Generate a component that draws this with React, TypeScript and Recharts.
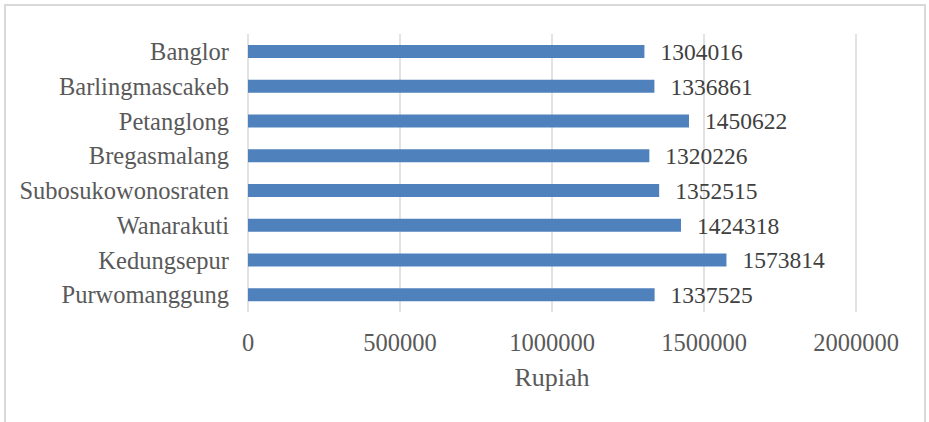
import React from 'react';
import { BarChart, Bar, XAxis, YAxis, CartesianGrid, LabelList } from 'recharts';

const categories = ['Banglor', 'Barlingmascakeb', 'Petanglong', 'Bregasmalang', 'Subosukowonosraten', 'Wanarakuti', 'Kedungsepur', 'Purwomanggung'];
const values = [1304016, 1336861, 1450622, 1320226, 1352515, 1424318, 1573814, 1337525];
const xTicks = [0, 500000, 1000000, 1500000, 2000000];

const data = categories.map((name, i) => ({ name, value: values[i] }));

const FONT = 'Liberation Serif, Times New Roman, serif';

export default function App() {
  return (
    <div style={{ position: 'absolute', left: 0, top: 0, width: 929, height: 422, overflow: 'hidden', background: '#fff', fontFamily: FONT }}>
      <div style={{ position: 'absolute', left: 4, top: 4, width: 918, height: 440, border: '2px solid #d9d9d9' }} />
      <div style={{ position: 'absolute', left: 0, top: 0 }}>
        <BarChart
          width={929}
          height={422}
          data={data}
          layout="vertical"
          margin={{ top: 34, right: 73, bottom: 30, left: 0 }}
          barCategoryGap="31%"
          style={{ fontFamily: FONT }}
        >
          <CartesianGrid horizontal={false} vertical={true} stroke="#d9d9d9" strokeWidth={1.5} />
          <XAxis
            type="number"
            domain={[0, 2000000]}
            ticks={xTicks}
            axisLine={false}
            tickLine={false}
            tickSize={0}
            tickMargin={22}
            height={80}
            interval={0}
            tick={{ fontFamily: FONT, fontSize: 24.5, fill: '#595959', style: { fontFamily: FONT } }}
            label={{ value: 'Rupiah', position: 'insideBottom', offset: 6, style: { fontFamily: FONT, fontSize: 26, fill: '#595959' } }}
          />
          <YAxis
            type="category"
            dataKey="name"
            width={248}
            axisLine={false}
            tickLine={false}
            tickSize={0}
            tickMargin={19}
            interval={0}
            tick={{ fontFamily: FONT, fontSize: 24.5, fill: '#595959', style: { fontFamily: FONT } }}
          />
          <Bar dataKey="value" fill="#4f81bd" barSize={13} isAnimationActive={false}>
            <LabelList dataKey="value" position="right" offset={16} style={{ fontFamily: FONT, fontSize: 23.5, fill: '#404040' }} />
          </Bar>
        </BarChart>
      </div>
    </div>
  );
}
